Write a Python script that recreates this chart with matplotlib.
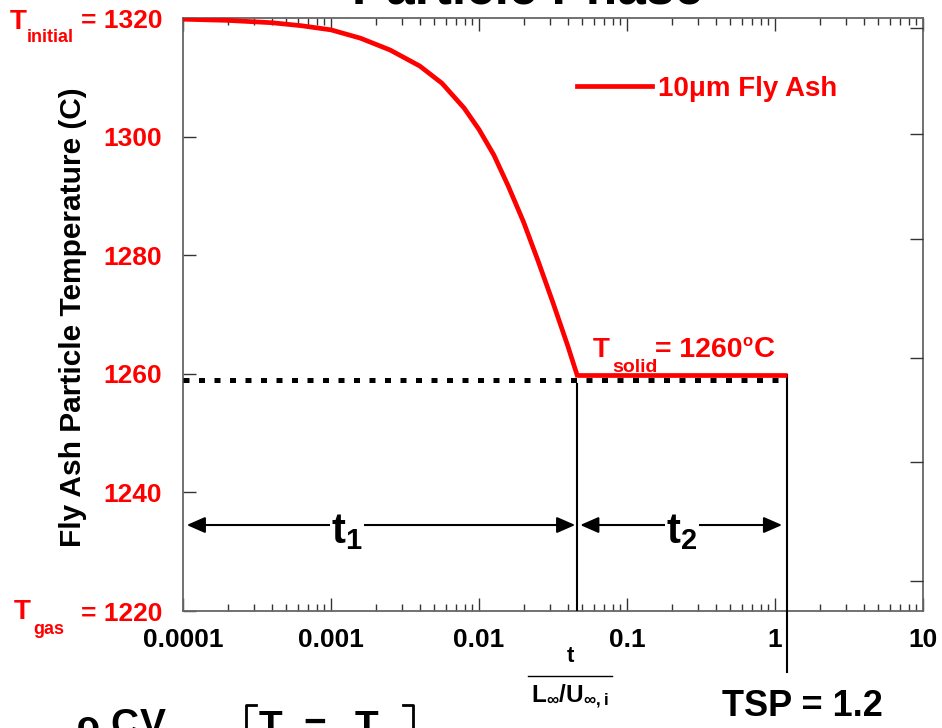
import numpy as np
import matplotlib.pyplot as plt
from matplotlib.lines import Line2D

plt.rcParams['font.family'] = ['Liberation Sans', 'DejaVu Sans']
plt.rcParams['font.weight'] = 'bold'
plt.rcParams['mathtext.fontset'] = 'custom'
plt.rcParams['mathtext.rm'] = 'Liberation Sans:bold'
plt.rcParams['mathtext.bf'] = 'Liberation Sans:bold'
plt.rcParams['mathtext.it'] = 'Liberation Sans:bold'

# ---------------------------------------------- data ----------------------------------------------
t_cool = [1e-4, 2e-4, 4e-4, 6.3e-4, 1e-3, 1.58e-3, 2.51e-3, 3.98e-3, 5.62e-3, 7.94e-3,
          0.01, 0.0126, 0.0158, 0.02, 0.0251, 0.0316, 0.0398, 0.046]
T_cool = [1319.8, 1319.6, 1319.2, 1318.7, 1318.0, 1316.6, 1314.6, 1311.9, 1309.0, 1304.8,
          1301.2, 1296.9, 1291.6, 1285.6, 1279.0, 1272.0, 1264.7, 1259.8]
t_hold = [0.046, 1.2]
T_hold = [1259.8, 1259.8]
t_dots = [1e-4, 1.14]
T_dots = [1258.9, 1258.9]
t_end1 = 0.046     # end of t1
tsp = 1.2          # TSP
T_arrow = 1234.5

y_ticks = [1220, 1240, 1260, 1280, 1300, 1320]
y_ticklabels = ['= 1220', '1240', '1260', '1280', '1300', '= 1320']
x_ticks = [1e-4, 1e-3, 1e-2, 1e-1, 1, 10]
x_ticklabels = ['0.0001', '0.001', '0.01', '0.1', '1', '10']
right_ticks = [0.051, 0.251, 0.427, 0.627, 0.804, 0.983]

W, H = 942, 728
RED = '#ff0000'


def px(x, y):
    return x / W, 1 - y / H


def label(x, y, s, size, color='black', **kw):
    fig.text(*px(x, y), s, fontsize=size, color=color, fontweight='bold', **kw)


fig = plt.figure(figsize=(W / 100, H / 100), dpi=100)
ax = fig.add_axes([183 / W, 1 - 611 / H, 740 / W, 593 / H])

ax.plot(t_cool, T_cool, color=RED, lw=3.4, solid_joinstyle='round', label='10\u03bcm Fly Ash', zorder=4)
ax.plot(t_hold, T_hold, color=RED, lw=3.4, solid_capstyle='butt', zorder=4)
ax.plot(t_dots, T_dots, color='black', lw=3.6, ls=(0, (1.2, 1.9)), zorder=3)

ax.plot([t_end1, t_end1], [1258.2, 1220], color='black', lw=1.5, zorder=3)
ax.plot([tsp, tsp], [1259.8, 1209.7], color='black', lw=1.5, clip_on=False, zorder=3)

# t1 / t2 arrows
for a, b in [(1.06e-4, 0.0447), (0.0483, 1.117)]:
    ax.annotate('', xy=(a, T_arrow), xytext=(b, T_arrow),
                arrowprops=dict(arrowstyle='<|-|>,head_length=0.8,head_width=0.35', color='black',
                                lw=1.5, mutation_scale=14, shrinkA=0, shrinkB=0))
box = dict(facecolor='white', edgecolor='none', pad=1)
ax.text(1.0e-3, 1231.5, r'$\mathbf{t_1}$', fontsize=30, ha='left', va='baseline', bbox=box, zorder=5)
ax.text(0.184, 1231.5, r'$\mathbf{t_2}$', fontsize=30, ha='left', va='baseline', bbox=box, zorder=5)

ax.set_xscale('log')
ax.set_xlim(1e-4, 10)
ax.set_ylim(1220, 1320)
ax.set_xticks(x_ticks)
ax.set_xticklabels(x_ticklabels, fontsize=19, fontweight='bold')
ax.set_yticks(y_ticks)
ax.set_yticklabels(y_ticklabels, fontsize=19, fontweight='bold', color=RED)
ax.xaxis.set_minor_locator(plt.LogLocator(base=10, subs=np.arange(2, 10)))
ax.xaxis.set_minor_formatter(plt.NullFormatter())
ax.tick_params(axis='x', which='major', direction='in', top=True, bottom=True, length=9.4,
               width=1, color='#333333', pad=12)
ax.tick_params(axis='x', which='minor', direction='in', top=True, bottom=True, length=5,
               width=1, color='#333333')
ax.tick_params(axis='y', which='both', direction='in', left=True, right=False, length=9.4,
               width=1, color='#333333', pad=15)
for s in ax.spines.values():
    s.set_color('#666666')
    s.set_linewidth(1.3)

ax2 = ax.twinx()
ax2.set_ylim(0, 1)
ax2.set_yticks(right_ticks)
ax2.set_yticklabels([])
ax2.tick_params(axis='y', direction='in', length=9.4, width=1, color='#333333')
for s in ax2.spines.values():
    s.set_visible(False)

leg = ax.legend(loc='center left', bbox_to_anchor=px(577, 89), bbox_transform=fig.transFigure,
                frameon=False, borderpad=0, borderaxespad=0, handlelength=2.7, handletextpad=0.2,
                prop={'size': 20, 'weight': 'bold'}, labelcolor=RED)

# text around the axes
fig.text(*px(527, 4), 'Particle Phase', fontsize=37, fontweight='bold', ha='center', va='baseline')
label(73, 317, 'Fly Ash Particle Temperature (C)', 21.5, rotation=90, ha='center', va='center')

label(10, 22, 'T', 20, RED, va='center')
label(27, 38, 'initial', 13, RED, va='center')
label(14, 612, 'T', 20, RED, va='center')
label(33, 630, 'gas', 13, RED, va='center')

label(593, 357, 'T', 20, RED, va='baseline')
label(612, 372, 'solid', 14, RED, va='baseline')
label(655, 357, '= 1260', 20.5, RED, va='baseline')
label(742, 346, 'o', 12, RED, va='baseline')
label(754, 357, 'C', 21, RED, va='baseline')

label(570, 657, 't', 16, ha='center', va='center')
fig.add_artist(Line2D([528 / W, 612 / W], [1 - 676 / H] * 2, color='black', lw=1))
label(570, 697, r'$\mathbf{L_{\infty}/U_{\infty,i}}$', 17.5, ha='center', va='center')

label(802, 706, 'TSP = 1.2', 26, ha='center', va='center')

# equation cut off at the bottom edge
label(76, 738, '\u03c1', 28, va='baseline')
label(110, 736, 'C', 28, va='baseline')
label(140, 736, 'V', 28, va='baseline')
label(259, 738, 'T', 28, va='baseline')
label(303, 734, '\u2212', 28, va='baseline')
label(355, 738, 'T', 28, va='baseline')
fig.add_artist(Line2D([256 / W, 246 / W, 246 / W], [1 - 705 / H, 1 - 705 / H, 0], color='black', lw=2))
fig.add_artist(Line2D([403 / W, 413 / W, 413 / W], [1 - 705 / H, 1 - 705 / H, 0], color='black', lw=2))

fig.savefig('out.png', dpi=100)
